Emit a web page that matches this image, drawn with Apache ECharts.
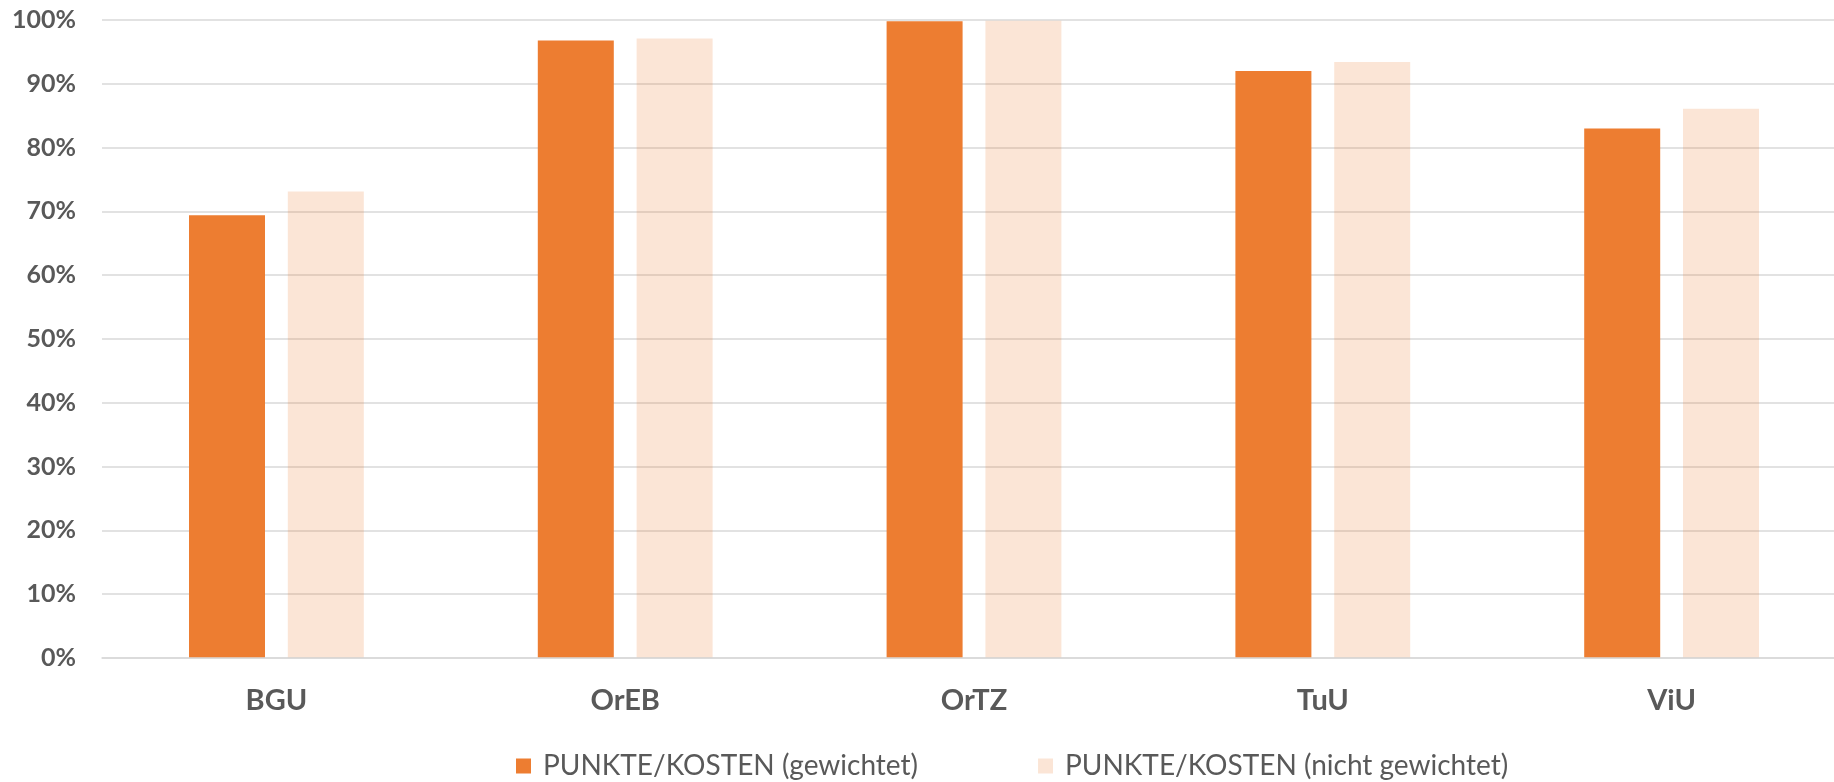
<!DOCTYPE html>
<html>
<head>
<meta charset="utf-8">
<script src="https://cdn.jsdelivr.net/npm/echarts@6/dist/echarts.min.js"></script>
<style>
  html, body { margin: 0; padding: 0; background: #fff; }
  #chart { width: 1834px; height: 782px; }
</style>
</head>
<body>
<div id="chart"></div>
<script>
// Kategorien und Werte (Prozent)
const categories = ['BGU', 'OrEB', 'OrTZ', 'TuU', 'ViU'];
const weighted = [69.4, 96.8, 99.8, 92.0, 83.0];
const unweighted = [73.1, 97.1, 99.9, 93.4, 86.1];
const seriesNames = ['PUNKTE/KOSTEN (gewichtet)', 'PUNKTE/KOSTEN (nicht gewichtet)'];

const textGray = '#595959';
const gridGray = '#D9D9D9';

const chart = echarts.init(document.getElementById('chart'), null, { renderer: 'canvas' });

chart.setOption({
  animation: false,
  backgroundColor: '#ffffff',
  // plot area runs slightly past the right edge of the canvas
  grid: {
    left: 102,
    width: 1744,
    top: 20,
    bottom: 124,
    containLabel: false,
    outerBoundsMode: 'none'
  },
  legend: {
    left: 516,
    top: 752,
    padding: 0,
    icon: 'rect',
    itemWidth: 15,
    itemHeight: 15,
    itemGap: 120,
    textStyle: {
      fontFamily: 'Lato',
      fontSize: 28,
      color: textGray,
      padding: [0, 0, 0, 7]
    },
    data: seriesNames
  },
  xAxis: {
    type: 'category',
    data: categories,
    z: 3,
    axisLine: { show: true, lineStyle: { color: gridGray, width: 1.5 } },
    axisTick: { show: false },
    axisLabel: {
      margin: 28,
      fontFamily: 'Lato',
      fontWeight: 'bold',
      fontSize: 29,
      color: textGray
    }
  },
  yAxis: {
    type: 'value',
    min: 0,
    max: 100,
    interval: 10,
    axisLine: { show: false },
    axisTick: { show: false },
    splitLine: { lineStyle: { color: gridGray, width: 1.5 } },
    axisLabel: {
      margin: 26,
      formatter: '{value}%',
      fontFamily: 'Lato',
      fontWeight: 'bold',
      fontSize: 25,
      color: textGray
    }
  },
  series: [
    {
      name: seriesNames[0],
      type: 'bar',
      data: weighted,
      barWidth: 76,
      barGap: '30%',
      itemStyle: { color: '#ED7D31' }
    },
    {
      name: seriesNames[1],
      type: 'bar',
      data: unweighted,
      barWidth: 76,
      itemStyle: { color: 'rgba(237,125,49,0.2)' }
    }
  ]
});
</script>
</body>
</html>
